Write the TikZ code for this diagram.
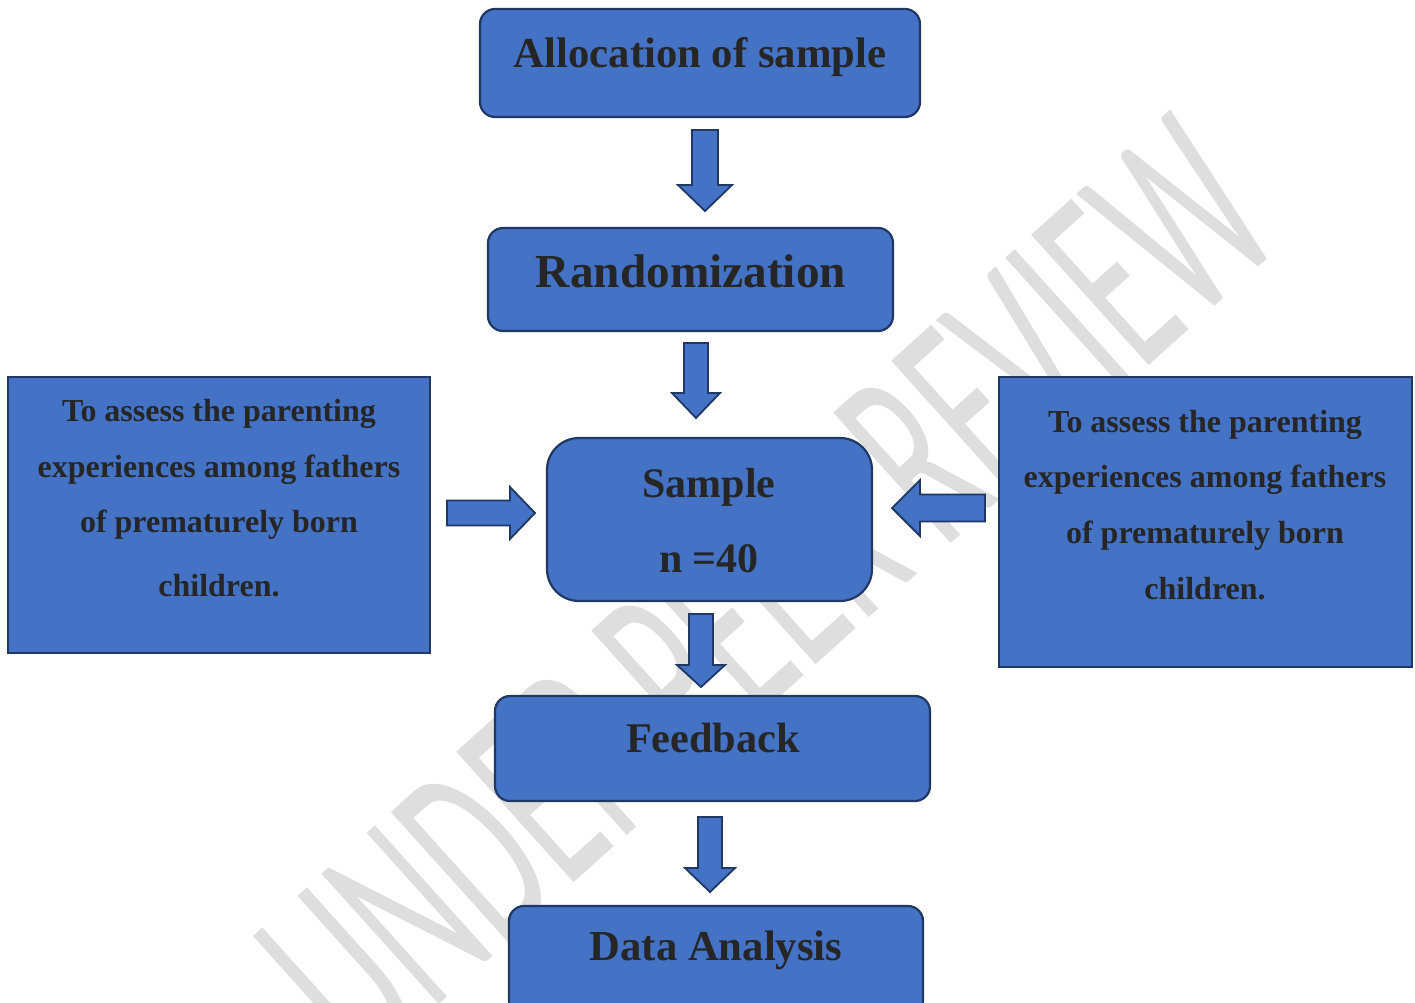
\documentclass[tikz,border=0pt]{standalone}
\usepackage{fontspec}
\setmainfont{Liberation Serif}
\newfontfamily\wmfont{Carlito}
\definecolor{boxfill}{HTML}{4472C4}
\definecolor{boxline}{HTML}{1F3864}
\definecolor{txt}{HTML}{262626}
\definecolor{wmgray}{HTML}{DEDEDE}
\newcommand\blockarrow[6]{% start coord, angle, length, shaft half, head half, head length
  \begin{scope}[shift={(#1)}, rotate=#2]
    \draw[barrow] (0,-#4) -- (#3-#6,-#4) -- (#3-#6,-#5) -- (#3,0) -- (#3-#6,#5) -- (#3-#6,#4) -- (0,#4) -- cycle;
  \end{scope}}
\begin{document}
\begin{tikzpicture}[x=1pt, y=-1pt,
  rbox/.style={draw=boxline, fill=boxfill, line width=2.2pt, rounded corners=15pt, inner sep=0pt},
  sbox/.style={draw=boxline, fill=boxfill, line width=2.2pt, inner sep=0pt},
  barrow/.style={draw=boxline, fill=boxfill, line width=1.8pt, line join=miter},
  lbl/.style={text=txt, inner sep=0pt, anchor=base, font=\bfseries\fontsize{#1}{#1}\selectfont},
  sidetxt/.style={text=txt, inner sep=0pt, anchor=base, font=\bfseries\fontsize{32}{32}\selectfont}]
\useasboundingbox (0,0) rectangle (1415,1002);
\fill[white] (0,0) rectangle (1415,1002);
% watermark
\begin{scope}[shift={(768,592)}, rotate=42, yscale=1.9]
  \node[transform shape, text=wmgray, inner sep=0pt, font=\wmfont\fontsize{144}{144}\selectfont] (wm) at (0,0) {UNDER PEER REVIEW};
\end{scope}
% boxes
\node[rbox, minimum width=440pt, minimum height=108pt] (alloc) at (700,63) {};
\node[rbox, minimum width=405pt, minimum height=103pt] (rand) at (690.5,279.5) {};
\node[rbox, rounded corners=32pt, minimum width=325pt, minimum height=163pt] (sample) at (709.5,519.5) {};
\node[rbox, minimum width=435pt, minimum height=105pt] (feed) at (712.5,748.5) {};
\node[rbox, minimum width=414pt, minimum height=110pt] (data) at (716,961) {};
\node[sbox, minimum width=422pt, minimum height=276pt] (left) at (219,515) {};
\node[sbox, minimum width=413pt, minimum height=290pt] (right) at (1205.5,522) {};
% labels
\node[lbl=42.7] (altxt) at (700,67) {Allocation of sample};
\node[lbl=47.3] (rtxt) at (691,287) {Randomization};
\node[lbl=42] (stxt) at (709,497) {Sample};
\node[lbl=42] (ntxt) at (709,572) {n =40};
\node[lbl=42.3] (ftxt) at (713,752) {Feedback};
\node[lbl=42.7] (dtxt) at (716,960) {Data Analysis};
\node[sidetxt] (l1) at (219,421) {To assess the parenting};
\node[sidetxt] (l2) at (219,477) {experiences among fathers};
\node[sidetxt] (l3) at (219,532) {of prematurely born};
\node[sidetxt] (l4) at (219,596) {children.};
\node[sidetxt] (r1) at (1205,432) {To assess the parenting};
\node[sidetxt] (r2) at (1205,487) {experiences among fathers};
\node[sidetxt] (r3) at (1205,543) {of prematurely born};
\node[sidetxt] (r4) at (1205,599) {children.};
% arrow anchors
\coordinate (a1) at (705,130);
\coordinate (a2) at (696,343);
\coordinate (a3) at (447,513);
\coordinate (a4) at (985,508);
\coordinate (a5) at (701,614);
\coordinate (a6) at (710,817);
\blockarrow{a1}{-90}{81}{13}{27}{26}
\blockarrow{a2}{-90}{75}{12}{24}{25}
\blockarrow{a3}{0}{88}{12.5}{26}{25}
\blockarrow{a4}{180}{93}{13.5}{28}{28}
\blockarrow{a5}{-90}{73}{12}{24}{22}
\blockarrow{a6}{-90}{75}{12}{25}{24}
\end{tikzpicture}
\end{document}
